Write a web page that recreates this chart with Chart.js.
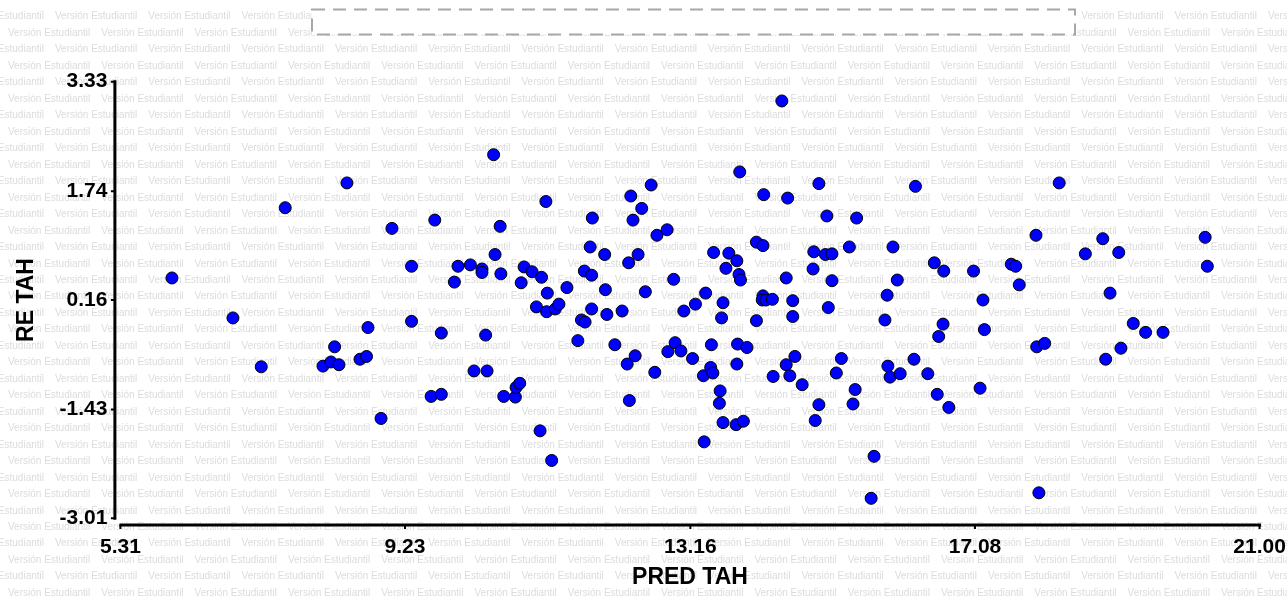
<!DOCTYPE html>
<html>
<head>
<meta charset="utf-8">
<title>PRED TAH vs RE TAH</title>
<script src="https://cdn.jsdelivr.net/npm/chart.js@4/dist/chart.umd.min.js"></script>
<style>
    body { margin: 0; background: #ffffff; }
    #wrap { width: 1287px; height: 598px; }
</style>
</head>
<body>
<div id="wrap"><canvas id="dispersion" width="1287" height="598"></canvas></div>
<script>
// Valores predichos (eje X)
var predTah = [
    6.02, 6.86, 7.25, 7.58, 8.10, 8.21, 8.32, 8.26, 8.43, 8.61, 8.70, 8.72, 8.90, 9.05, 9.32, 9.32, 9.59, 9.73, 9.64, 9.73,
    9.91, 9.96, 10.13, 10.18, 10.29, 10.29, 10.34, 10.36, 10.45, 10.47, 10.54, 10.55, 10.59, 10.75, 10.76, 10.81, 10.83, 10.87, 10.98, 11.04,
    11.09, 11.11, 11.17, 11.19, 11.18, 11.25, 11.30, 11.35, 11.46, 11.61, 11.66, 11.71, 11.70, 11.78, 11.80, 11.80, 11.81, 11.98, 11.99, 12.01,
    12.12, 12.22, 12.29, 12.31, 12.32, 12.34, 12.37, 12.40, 12.44, 12.49, 12.54, 12.62, 12.67, 12.70, 12.84, 12.85, 12.93, 12.95, 13.03, 13.07,
    13.19, 13.23, 13.34, 13.35, 13.37, 13.44, 13.47, 13.45, 13.48, 13.56, 13.57, 13.59, 13.61, 13.61, 13.65, 13.69, 13.79, 13.80, 13.80, 13.81,
    13.83, 13.84, 13.85, 13.89, 13.94, 14.07, 14.07, 14.16, 14.15, 14.20, 14.16, 14.17, 14.29, 14.30, 14.42, 14.48, 14.48, 14.50, 14.53, 14.57,
    14.57, 14.60, 14.70, 14.85, 14.86, 14.88, 14.93, 14.93, 15.02, 15.04, 15.06, 15.11, 15.11, 15.17, 15.24, 15.35, 15.40, 15.43, 15.45, 15.65,
    15.69, 15.84, 15.87, 15.88, 15.91, 15.95, 16.01, 16.05, 16.24, 16.26, 16.43, 16.52, 16.56, 16.58, 16.64, 16.65, 16.72, 17.06, 17.15, 17.19,
    17.21, 17.58, 17.64, 17.69, 17.92, 17.93, 17.96, 18.04, 18.24, 18.60, 18.84, 18.88, 18.94, 19.06, 19.09, 19.26, 19.43, 19.67, 20.25, 20.28
];

// Residuos (eje Y), mismo orden que predTah
var reTah = [
    0.48, -0.10, -0.81, 1.50, -0.80, -0.74, -0.78, -0.52, 1.86, -0.70, -0.66, -0.24, -1.56, 1.20, 0.65, -0.15, -1.24, -1.21, 1.32, -0.32,
    0.42, 0.65, 0.67, -0.87, 0.61, 0.56, -0.35, -0.87, 2.27, 0.82, 1.23, 0.54, -1.24, -1.25, -1.11, -1.05, 0.41, 0.64, 0.57, 0.06,
    -1.74, 0.49, 1.59, 0.26, -0.01, -2.17, 0.03, 0.10, 0.34, -0.43, -0.13, -0.16, 0.58, 0.93, 0.52, 0.03, 1.35, 0.82, 0.31, -0.05,
    -0.49, 0.00, -0.77, 0.70, -1.30, 1.67, 1.32, -0.65, 0.82, 1.49, 0.28, 1.83, -0.89, 1.10, 1.18, -0.59, 0.46, -0.46, -0.58, 0.00,
    -0.69, 0.10, -0.94, -1.90, 0.26, -0.82, -0.90, -0.49, 0.85, -1.34, -1.16, -0.10, 0.12, -1.62, 0.62, 0.84, -1.65, 0.73, -0.77, -0.48,
    0.53, 2.02, 0.45, -1.60, -0.53, 1.00, -0.14, 0.22, 0.16, 0.16, 0.95, 1.69, 0.17, -0.95, 3.05, 0.48, -0.78, 1.64, -0.94, -0.08,
    0.15, -0.66, -1.07, 0.61, 0.86, -1.59, 1.85, -1.36, 0.82, 1.38, 0.05, 0.83, 0.44, -0.90, -0.69, 0.93, -1.35, -1.14, 1.35, -2.72,
    -2.11, -0.13, 0.23, -0.80, -0.96, 0.93, 0.45, -0.91, -0.70, 1.81, -0.91, 0.70, -1.21, -0.37, -0.19, 0.58, -1.40, 0.58, -1.12, 0.16,
    -0.27, 0.68, 0.65, 0.38, 1.10, -0.52, -2.64, -0.47, 1.86, 0.83, 1.05, -0.70, 0.26, 0.85, -0.54, -0.18, -0.31, -0.31, 1.07, 0.65
];

// Marcas de los ejes
var xTicks = [5.31, 9.23, 13.16, 17.08, 21.00];
var yTicks = [-3.01, -1.43, 0.16, 1.74, 3.33];

var fuente = '"Liberation Sans", Arial, sans-serif';
Chart.defaults.font.family = fuente;

// Fondo con la marca de agua repetida
var marcaAgua = {
    id: 'marcaAgua',
    beforeDraw: function (chart) {
        var ctx = chart.ctx;
        ctx.save();
        ctx.fillStyle = '#ffffff';
        ctx.fillRect(0, 0, chart.width, chart.height);
        ctx.font = '10px ' + fuente;
        ctx.fillStyle = '#dcdcdc';
        ctx.textBaseline = 'middle';
        ctx.textAlign = 'left';
        var paso = 93.3;
        for (var fila = 0; fila < 37; fila++) {
            var y = 16.7 + fila * 16.47;
            var x0 = (fila % 2 === 0) ? -38.3 : 8;
            for (var x = x0; x < chart.width; x += paso) {
                ctx.fillText('Versión Estudiantil', x, y);
            }
        }
        ctx.restore();
    }
};

// Ejes separados del área de datos y recuadro punteado superior
var ejes = {
    id: 'ejes',
    beforeDatasetsDraw: function (chart) {
        var ctx = chart.ctx;
        var area = chart.chartArea;
        var sx = chart.scales.x;
        var sy = chart.scales.y;
        var ejeX = area.left - 5.5;
        var ejeY = area.bottom + 6.7;

        ctx.save();
        ctx.strokeStyle = '#000000';
        ctx.lineWidth = 3;
        ctx.beginPath();
        ctx.moveTo(ejeX, sy.getPixelForValue(yTicks[yTicks.length - 1]) - 1.5);
        ctx.lineTo(ejeX, sy.getPixelForValue(yTicks[0]) + 1.5);
        ctx.moveTo(sx.getPixelForValue(xTicks[0]) - 1, ejeY);
        ctx.lineTo(sx.getPixelForValue(xTicks[xTicks.length - 1]) + 1.5, ejeY);
        ctx.stroke();

        ctx.lineWidth = 2;
        ctx.beginPath();
        yTicks.forEach(function (v) {
            var py = sy.getPixelForValue(v);
            ctx.moveTo(ejeX - 4, py);
            ctx.lineTo(ejeX, py);
        });
        xTicks.forEach(function (v) {
            var px = sx.getPixelForValue(v);
            ctx.moveTo(px, ejeY);
            ctx.lineTo(px, ejeY + 4);
        });
        ctx.stroke();

        // recuadro del título
        ctx.fillStyle = '#ffffff';
        ctx.fillRect(312, 9.5, 763, 25);
        ctx.strokeStyle = '#a8a8a8';
        ctx.lineWidth = 2;
        ctx.setLineDash([13, 8]);
        ctx.strokeRect(312, 9.5, 763, 25);
        ctx.setLineDash([]);
        ctx.restore();
    }
};

var puntos = predTah.map(function (x, i) {
    return { x: x, y: reTah[i] };
});

var grafico = new Chart(document.getElementById('dispersion'), {
    type: 'scatter',
    data: {
        datasets: [{
            label: 'RE TAH',
            data: puntos,
            backgroundColor: '#0000ff',
            borderColor: '#000000',
            borderWidth: 1,
            pointRadius: 6,
            pointHoverRadius: 6
        }]
    },
    options: {
        responsive: false,
        animation: false,
        layout: { padding: { left: 0, right: 27.4, top: 81.7, bottom: 0 } },
        plugins: {
            legend: { display: false },
            tooltip: { enabled: false }
        },
        scales: {
            x: {
                type: 'linear',
                min: xTicks[0],
                max: xTicks[xTicks.length - 1],
                afterBuildTicks: function (scale) {
                    scale.ticks = xTicks.map(function (v) { return { value: v }; });
                },
                afterFit: function (scale) {
                    scale.height = 79.7;
                    scale.paddingLeft = 0;
                    scale.paddingRight = 0;
                },
                grid: { display: false, drawTicks: false },
                border: { display: false },
                ticks: {
                    color: '#000000',
                    padding: 16,
                    maxRotation: 0,
                    font: { size: 21, weight: 'bold' },
                    callback: function (v) { return Number(v).toFixed(2); }
                },
                title: {
                    display: true,
                    text: 'PRED TAH',
                    color: '#000000',
                    font: { size: 23, weight: 'bold' },
                    padding: { top: 0, bottom: 6.7 }
                }
            },
            y: {
                type: 'linear',
                min: yTicks[0],
                max: yTicks[yTicks.length - 1],
                afterBuildTicks: function (scale) {
                    scale.ticks = yTicks.map(function (v) { return { value: v }; });
                },
                afterFit: function (scale) {
                    scale.width = 120.4;
                    scale.paddingTop = 0;
                    scale.paddingBottom = 0;
                },
                grid: { display: false, drawTicks: false },
                border: { display: false },
                ticks: {
                    color: '#000000',
                    padding: 13,
                    font: { size: 21, weight: 'bold' },
                    callback: function (v) { return Number(v).toFixed(2); }
                },
                title: {
                    display: true,
                    text: 'RE TAH',
                    color: '#000000',
                    font: { size: 23, weight: 'bold' },
                    padding: { top: 12.7, bottom: 0 }
                }
            }
        }
    },
    plugins: [marcaAgua, ejes]
});
</script>
</body>
</html>
